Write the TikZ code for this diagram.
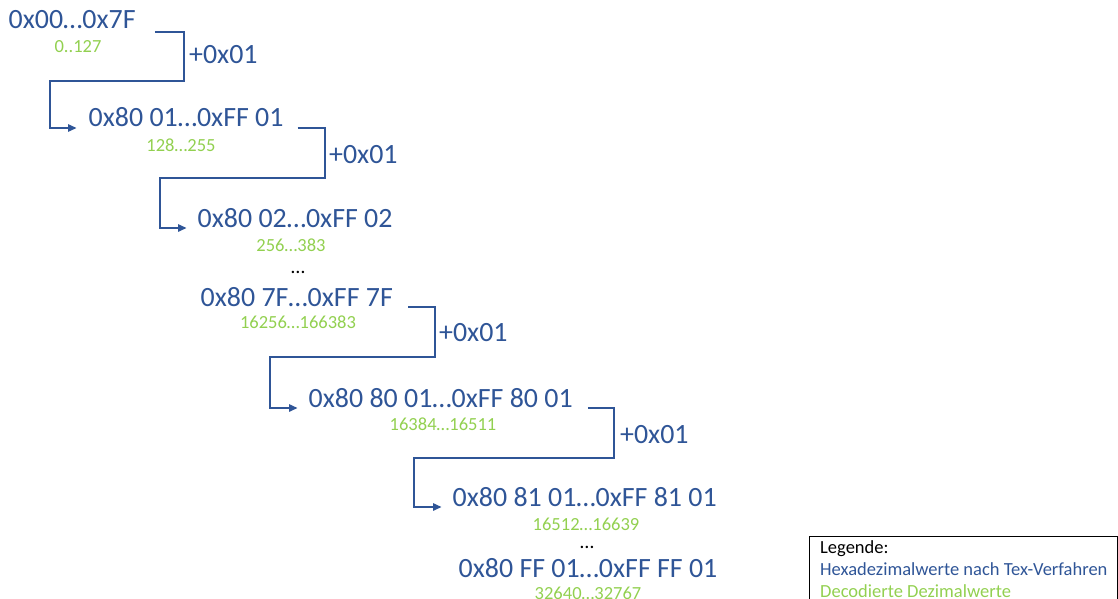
\documentclass[tikz,border=0pt]{standalone}
\usepackage{fontspec}
\setmainfont{Carlito}
\usetikzlibrary{arrows.meta}
\definecolor{hexblue}{HTML}{2F5597}
\definecolor{decgreen}{HTML}{92D050}
\tikzset{
  hexval/.style={inner sep=0pt, anchor=base west, text=hexblue, font=\fontsize{27.9}{30}\selectfont},
  decval/.style={inner sep=0pt, anchor=base, text=decgreen, font=\fontsize{18.5}{20}\selectfont},
  incr/.style={inner sep=0pt, anchor=west, text=hexblue, font=\fontsize{27.9}{30}\selectfont},
  gapdots/.style={inner sep=0pt, anchor=base, text=black, font=\fontsize{20}{22}\selectfont},
  carry/.style={draw=hexblue, line width=1.5pt, -{Triangle[length=8.5pt,width=7.5pt]}},
  legendtext/.style={inner sep=0pt, anchor=base west, font=\fontsize{18.5}{21}\selectfont},
  legendframe/.style={draw=black, line width=1.2pt, inner sep=0pt, anchor=north west,
    minimum width=308pt, minimum height=90pt},
}
\begin{document}
\begin{tikzpicture}[x=1pt,y=-1pt]
\useasboundingbox (0,0) rectangle (1118,599);
\clip (0,0) rectangle (1118,599);

% encoded ranges (hex) and their decoded decimal ranges
\node[hexval] (r1) at (8.5,29)   {0x00…0x7F};
\node[decval] (d1) at (78,53)    {0..127};
\node[hexval] (r2) at (88.5,127) {0x80 01…0xFF 01};
\node[decval] (d2) at (181,151)  {128…255};
\node[hexval] (r3) at (197.5,227) {0x80 02…0xFF 02};
\node[decval] (d3) at (291,251)  {256…383};
\node[gapdots] (g1) at (298,273) {…};
\node[hexval] (r4) at (200.5,306) {0x80 7F…0xFF 7F};
\node[decval] (d4) at (298,328)  {16256…166383};
\node[hexval] (r5) at (308.5,407) {0x80 80 01…0xFF 80 01};
\node[decval] (d5) at (443,430)  {16384…16511};
\node[hexval] (r6) at (452.5,506) {0x80 81 01…0xFF 81 01};
\node[decval] (d6) at (586,530)  {16512…16639};
\node[gapdots] (g2) at (587,548) {…};
\node[hexval] (r7) at (458.5,577) {0x80 FF 01…0xFF FF 01};
\node[decval] (d7) at (588,599)  {32640…32767};

% bends of the carry connectors
\coordinate (t1) at (184,81);  \coordinate (b1) at (50,81);
\coordinate (t2) at (325,178); \coordinate (b2) at (160,178);
\coordinate (t3) at (435,357); \coordinate (b3) at (270,357);
\coordinate (t4) at (614,458); \coordinate (b4) at (414,458);

\draw[carry] ([shift={(19,3)}]r1.base east) -| (t1) -- (b1) |- ([shift={(-12,1)}]r2.base west);
\draw[carry] ([shift={(14,1)}]r2.base east) -| (t2) -- (b2) |- ([shift={(-11,1)}]r3.base west);
\draw[carry] ([shift={(15,1)}]r4.base east) -| (t3) -- (b3) |- ([shift={(-11,1)}]r5.base west);
\draw[carry] ([shift={(15,1)}]r5.base east) -| (t4) -- (b4) |- ([shift={(-11,1)}]r6.base west);

% increment labels beside the vertical segments
\node[incr] (i1) at (189,55)  {+0x01};
\node[incr] (i2) at (329,155) {+0x01};
\node[incr] (i3) at (439,333) {+0x01};
\node[incr] (i4) at (620,435) {+0x01};

% legend
\node[legendframe] (legend) at (809,536) {};
\node[legendtext, text=black]    (l1) at (820,553) {Legende:};
\node[legendtext, text=hexblue]  (l2) at (820,575) {Hexadezimalwerte nach Tex-Verfahren};
\node[legendtext, text=decgreen] (l3) at (820,597) {Decodierte Dezimalwerte};
\end{tikzpicture}
\end{document}
